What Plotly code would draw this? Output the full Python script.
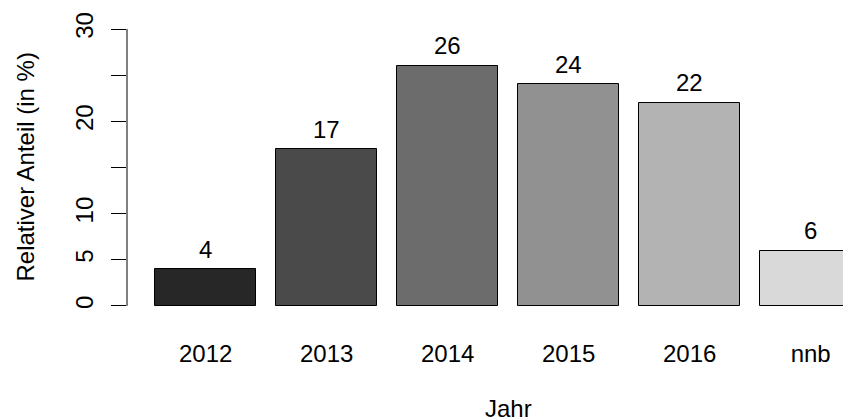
import plotly.graph_objects as go

# Data
categories = ["2012", "2013", "2014", "2015", "2016", "nnb"]
values = [4, 17, 26, 24, 22, 6]
bar_colors = ["#272727", "#4a4a4a", "#6c6c6c", "#919191", "#b3b3b3", "#d9d9d9"]
y_tick_vals = [0, 5, 10, 15, 20, 25, 30]
y_tick_text = ["0", "5", "10", "", "20", "", "30"]

# R barplot geometry: width 1, space 0.2
centers = [0.7 + 1.2 * i for i in range(len(categories))]

FONT = "Liberation Sans, Arial, sans-serif"
FS = 24

fig = go.Figure()
fig.add_trace(go.Bar(
    x=centers, y=values, width=1.0,
    marker=dict(color=bar_colors, line=dict(color="black", width=1)),
    showlegend=False, hoverinfo="skip",
))

annotations = []
for xc, v in zip(centers, values):
    annotations.append(dict(
        x=xc, y=v, xref="x", yref="y", text=str(v), showarrow=False,
        yanchor="middle", xanchor="center", yshift=20,
        font=dict(family=FONT, size=FS, color="black"),
    ))
# axis titles
annotations.append(dict(
    x=3.7, y=0, xref="x", yref="paper", text="Jahr", showarrow=False,
    yanchor="middle", xanchor="center", yshift=-91,
    font=dict(family=FONT, size=FS, color="black"),
))
annotations.append(dict(
    x=0, y=15, xref="paper", yref="y", text="Relativer Anteil (in %)", showarrow=False,
    textangle=-90, yanchor="middle", xanchor="center", xshift=-102,
    font=dict(family=FONT, size=FS, color="black"),
))

# page body has an 8px margin, so the figure is sized to fit the window
fig.update_layout(
    width=843, height=410,
    margin=dict(l=119, r=0, t=10, b=101),
    paper_bgcolor="white", plot_bgcolor="white",
    font=dict(family=FONT, size=FS, color="black"),
    bargap=0,
    xaxis=dict(
        range=[-0.08, 7.10], tickvals=centers, ticktext=categories,
        ticks="", showline=False, showgrid=False, zeroline=False,
        ticklabelstandoff=20, tickfont=dict(family=FONT, size=FS, color="black"),
    ),
    yaxis=dict(
        range=[-1.2, 31.2], tickvals=y_tick_vals, ticktext=y_tick_text,
        ticks="outside", ticklen=15, tickwidth=1, tickcolor="black",
        showline=False, showgrid=False, zeroline=False, tickangle=-90,
        ticklabelstandoff=8, tickfont=dict(family=FONT, size=FS, color="black"),
    ),
    annotations=annotations,
    shapes=[dict(type="line", xref="paper", yref="y", x0=0, x1=0, y0=0, y1=30,
                 line=dict(color="black", width=1))],
)

fig.write_html("out.html")
